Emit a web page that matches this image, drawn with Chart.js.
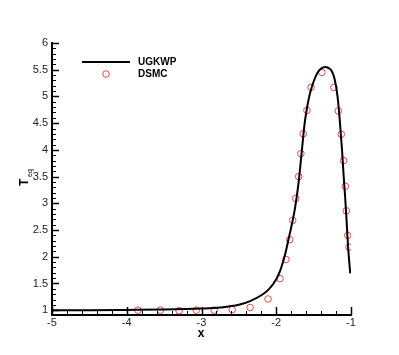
<!DOCTYPE html>
<html>
<head>
<meta charset="utf-8">
<script src="https://cdn.jsdelivr.net/npm/chart.js@4.4.1/dist/chart.umd.min.js"></script>
<style>
    body { margin: 0; background: #fff; }
    canvas { display: block; }
</style>
</head>
<body>
<canvas id="myChart" width="399" height="355"></canvas>
<script>
// UGKWP curve
let lineX = [-5, -4.5, -4, -3.5, -3, -2.75, -2.5, -2.35, -2.2, -2.1, -2.0, -1.95, -1.9, -1.88, -1.84, -1.8, -1.75, -1.7, -1.66, -1.62, -1.58, -1.55, -1.5, -1.45, -1.4, -1.34, -1.3, -1.26, -1.22, -1.18, -1.15, -1.12, -1.1, -1.08, -1.06, -1.04, -1.02, -1.01];
let lineY = [1.0, 1.0, 1.005, 1.012, 1.03, 1.05, 1.1, 1.17, 1.28, 1.39, 1.58, 1.73, 1.95, 2.05, 2.3, 2.55, 2.9, 3.4, 3.95, 4.5, 4.85, 5.05, 5.28, 5.44, 5.52, 5.55, 5.53, 5.48, 5.33, 5.0, 4.55, 4.0, 3.55, 3.15, 2.7, 2.2, 1.85, 1.69];

// DSMC points
let dsmcX = [-3.85, -3.55, -3.30, -3.07, -2.83, -2.59, -2.35, -2.11, -1.95, -1.87, -1.82, -1.78, -1.74, -1.70, -1.67, -1.64, -1.59, -1.535, -1.39, -1.23, -1.17, -1.13, -1.10, -1.076, -1.063, -1.044, -1.027];
let dsmcY = [1.0, 1.0, 0.99, 1.0, 1.0, 1.01, 1.05, 1.21, 1.59, 1.95, 2.32, 2.68, 3.09, 3.50, 3.93, 4.30, 4.74, 5.17, 5.45, 5.17, 4.73, 4.29, 3.80, 3.32, 2.86, 2.40, 2.18];

// tick labels
let xTicks = [-5, -4, -3, -2, -1];
let yTicks = [1, 1.5, 2, 2.5, 3, 3.5, 4, 4.5, 5, 5.5, 6];

let font = "'Liberation Sans', Arial, sans-serif";

function toPoints(xs, ys) {
    return xs.map((x, i) => ({x: x, y: ys[i]}));
}

// inward ticks, legend and axis titles (tecplot look)
let decorPlugin = {
    id: 'decor',
    afterDraw(chart) {
        let ctx = chart.ctx;
        let xs = chart.scales.x;
        let ys = chart.scales.y;
        let area = chart.chartArea;
        ctx.save();
        ctx.strokeStyle = '#000';

        //y ticks
        for (let i = 10; i <= 60; i++) {
            let v = i / 10;
            let py = Math.round(ys.getPixelForValue(v)) + 0.5;
            let major = i % 5 === 0;
            ctx.lineWidth = major ? 1.5 : 1;
            ctx.beginPath();
            ctx.moveTo(area.left, py);
            ctx.lineTo(area.left + (major ? 7 : 4), py);
            ctx.stroke();
        }
        //x ticks
        for (let i = -25; i <= -5; i++) {
            let v = i / 5;
            let px = Math.round(xs.getPixelForValue(v)) + 0.5;
            let major = i % 5 === 0;
            ctx.lineWidth = major ? 1.5 : 1;
            ctx.beginPath();
            ctx.moveTo(px, area.bottom);
            ctx.lineTo(px, area.bottom - (major ? 8 : 4));
            ctx.stroke();
        }

        //legend
        ctx.lineWidth = 2;
        ctx.beginPath();
        ctx.moveTo(82, 62);
        ctx.lineTo(130, 62);
        ctx.stroke();
        ctx.strokeStyle = 'rgb(232, 72, 72)';
        ctx.lineWidth = 1;
        ctx.beginPath();
        ctx.arc(106, 74, 3.3, 0, Math.PI * 2);
        ctx.stroke();
        ctx.fillStyle = '#000';
        ctx.font = 'bold 10px ' + font;
        ctx.textBaseline = 'middle';
        ctx.textAlign = 'left';
        ctx.fillText('UGKWP', 138, 62);
        ctx.fillText('DSMC', 138, 74);

        //x title
        ctx.font = 'bold 12px ' + font;
        ctx.textAlign = 'center';
        ctx.fillText('x', 201, 334);

        //y title T_eq
        ctx.translate(28, 186);
        ctx.rotate(-Math.PI / 2);
        ctx.textAlign = 'left';
        ctx.textBaseline = 'alphabetic';
        ctx.font = 'bold 12px ' + font;
        ctx.fillText('T', 0, 0);
        ctx.font = '7px ' + font;
        ctx.fillText('eq', 9, 3.5);
        ctx.restore();
    }
};

let chart = new Chart("myChart", {
    type: 'scatter',
    data: {
        datasets: [{
            label: 'UGKWP',
            data: toPoints(lineX, lineY),
            showLine: true,
            borderColor: '#000',
            borderWidth: 2,
            pointRadius: 0,
            cubicInterpolationMode: 'monotone'
        }, {
            label: 'DSMC',
            data: toPoints(dsmcX, dsmcY),
            showLine: false,
            pointStyle: 'circle',
            pointRadius: 3.3,
            borderColor: 'rgb(232, 72, 72)',
            backgroundColor: 'rgba(0, 0, 0, 0)',
            borderWidth: 1
        }]
    },
    options: {
        responsive: false,
        devicePixelRatio: 1,
        animation: false,
        layout: {padding: {top: 43, right: 48, left: 0, bottom: 0}},
        plugins: {
            legend: {display: false},
            tooltip: {enabled: false}
        },
        scales: {
            x: {
                type: 'linear',
                min: -5,
                max: -1,
                afterFit: function(scale) { scale.height = 40; },
                afterBuildTicks: function(scale) { scale.ticks = xTicks.map(v => ({value: v})); },
                grid: {display: false, drawTicks: false},
                border: {display: true, color: '#000', width: 2},
                ticks: {
                    padding: 1,
                    color: '#222',
                    font: {family: font, size: 11},
                    callback: v => String(v)
                }
            },
            y: {
                type: 'linear',
                min: 0.91,
                max: 6,
                afterFit: function(scale) { scale.width = 52; },
                afterBuildTicks: function(scale) { scale.ticks = yTicks.map(v => ({value: v})); },
                grid: {display: false, drawTicks: false},
                border: {display: true, color: '#000', width: 2},
                ticks: {
                    padding: 4,
                    color: '#222',
                    font: {family: font, size: 11},
                    callback: v => String(v)
                }
            }
        }
    },
    plugins: [decorPlugin]
});
</script>
</body>
</html>
